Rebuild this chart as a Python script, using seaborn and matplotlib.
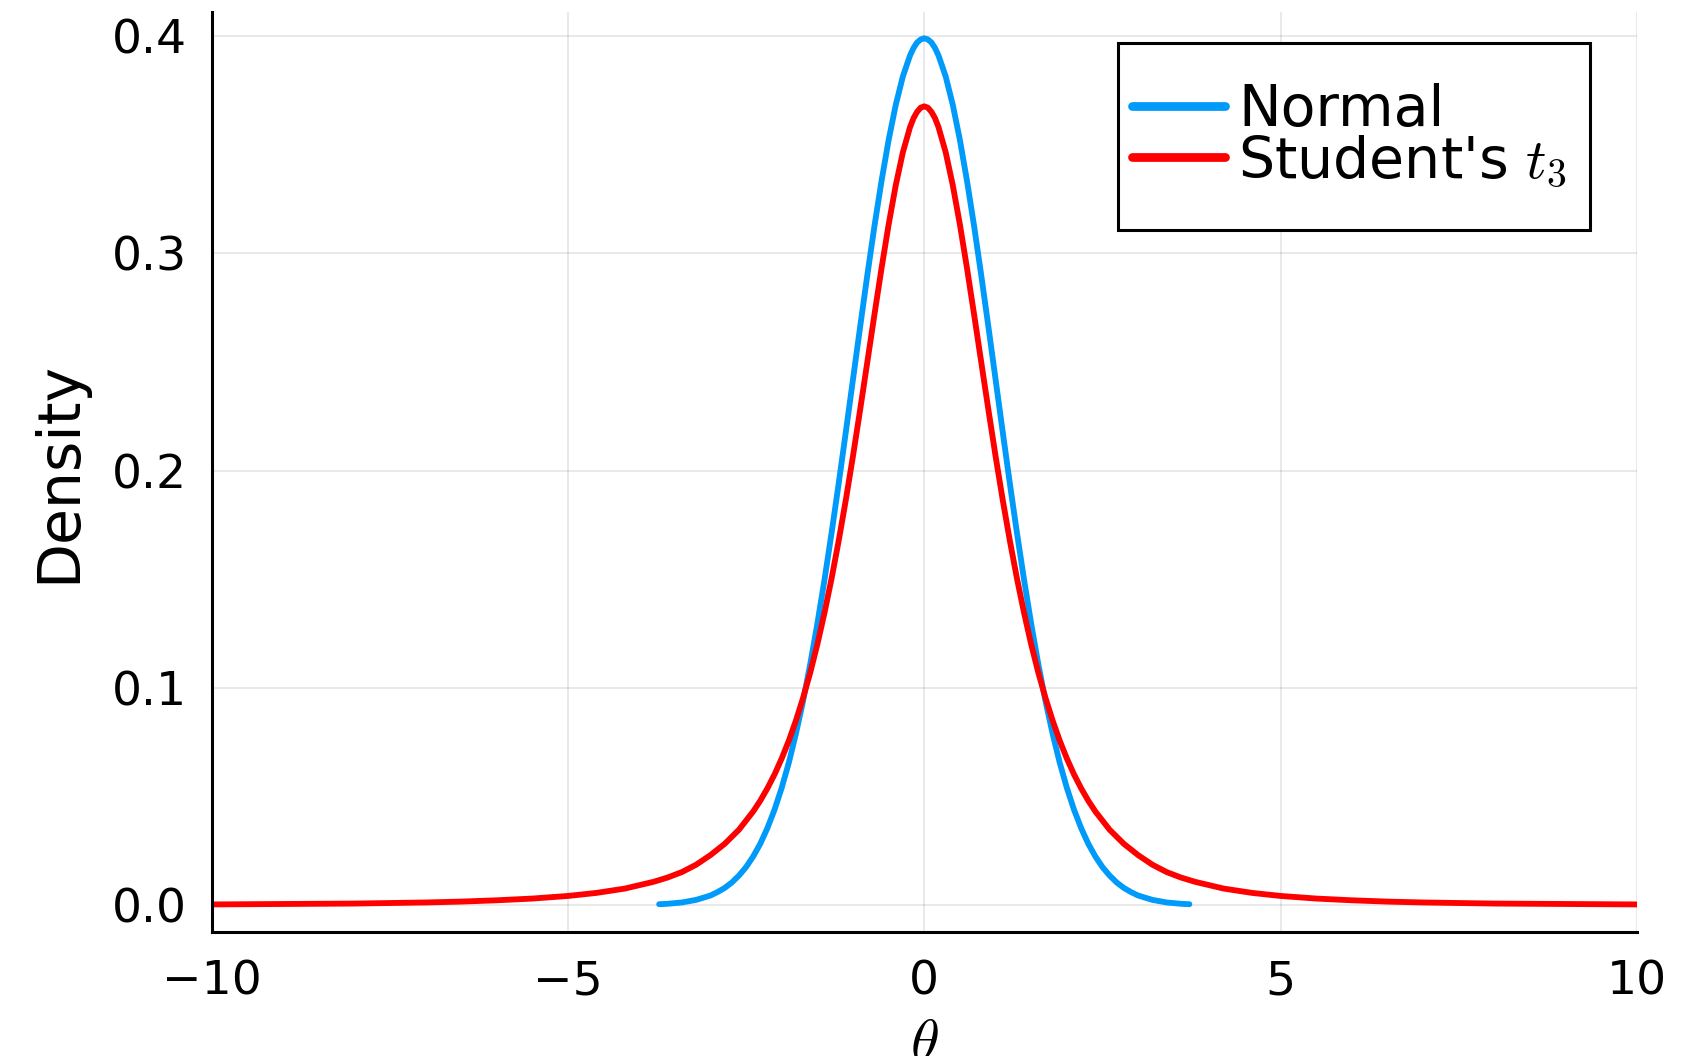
import seaborn as sns
import matplotlib.pyplot as plt
from matplotlib.patches import Rectangle
import pandas as pd

# values
normal_x = [-3.72, -3.6, -3.4, -3.2, -3.0, -2.9, -2.8, -2.7, -2.6, -2.5,
            -2.4, -2.3, -2.2, -2.1, -2.0, -1.9, -1.8, -1.7, -1.6, -1.5, -1.4, -1.3,
            -1.2, -1.1, -1.0, -0.9, -0.8, -0.7, -0.6, -0.5, -0.4, -0.3, -0.2, -0.15, -0.1, -0.05,
            0.0, 0.05, 0.1, 0.15, 0.2, 0.3, 0.4, 0.5, 0.6, 0.7, 0.8, 0.9, 1.0, 1.1, 1.2, 1.3,
            1.4, 1.5, 1.6, 1.7, 1.8, 1.9, 2.0, 2.1, 2.2, 2.3, 2.4,
            2.5, 2.6, 2.7, 2.8, 2.9, 3.0, 3.2, 3.4, 3.6, 3.72]
normal_y = [0.0004, 0.0006, 0.0012, 0.0024, 0.0044, 0.0060, 0.0079, 0.0104, 0.0136, 0.0175,
            0.0224, 0.0283, 0.0355, 0.0440, 0.0540, 0.0656, 0.0790, 0.0940, 0.1109, 0.1295, 0.1497, 0.1714,
            0.1942, 0.2179, 0.2420, 0.2661, 0.2897, 0.3123, 0.3332, 0.3521, 0.3683, 0.3814, 0.3910, 0.3945, 0.3970, 0.3984,
            0.3989, 0.3984, 0.3970, 0.3945, 0.3910, 0.3814, 0.3683, 0.3521, 0.3332, 0.3123, 0.2897, 0.2661, 0.2420, 0.2179, 0.1942, 0.1714,
            0.1497, 0.1295, 0.1109, 0.0940, 0.0790, 0.0656, 0.0540, 0.0440, 0.0355, 0.0283, 0.0224,
            0.0175, 0.0136, 0.0104, 0.0079, 0.0060, 0.0044, 0.0024, 0.0012, 0.0006, 0.0004]

t3_x = [-10.0, -9.0, -8.0, -7.0, -6.5, -6.0, -5.5, -5.0, -4.6, -4.2, -3.8, -3.6, -3.4, -3.2,
        -3.0, -2.8, -2.6, -2.4, -2.3, -2.2, -2.1, -2.0, -1.9, -1.8, -1.7, -1.6, -1.5, -1.4, -1.3,
        -1.2, -1.1, -1.0, -0.9, -0.8, -0.7, -0.6, -0.5, -0.4, -0.3, -0.2, -0.15, -0.1, -0.05,
        0.0, 0.05, 0.1, 0.15, 0.2, 0.3, 0.4, 0.5, 0.6, 0.7, 0.8, 0.9, 1.0, 1.1, 1.2, 1.3,
        1.4, 1.5, 1.6, 1.7, 1.8, 1.9, 2.0, 2.1, 2.2, 2.3, 2.4, 2.6, 2.8, 3.0,
        3.2, 3.4, 3.6, 3.8, 4.2, 4.6, 5.0, 5.5, 6.0, 6.5, 7.0, 8.0, 9.0, 10.0]
t3_y = [0.0003, 0.0005, 0.0007, 0.0012, 0.0016, 0.0022, 0.0030, 0.0042, 0.0056, 0.0076, 0.0107, 0.0127, 0.0152, 0.0186,
        0.0230, 0.0282, 0.0347, 0.0431, 0.0481, 0.0538, 0.0602, 0.0675, 0.0757, 0.0850, 0.0954, 0.1070, 0.1200, 0.1345, 0.1504,
        0.1678, 0.1866, 0.2067, 0.2279, 0.2497, 0.2716, 0.2930, 0.3132, 0.3313, 0.3465, 0.3580, 0.3622, 0.3651, 0.3670,
        0.3676, 0.3670, 0.3651, 0.3622, 0.3580, 0.3465, 0.3313, 0.3132, 0.2930, 0.2716, 0.2497, 0.2279, 0.2067, 0.1866, 0.1678, 0.1504,
        0.1345, 0.1200, 0.1070, 0.0954, 0.0850, 0.0757, 0.0675, 0.0602, 0.0538, 0.0481, 0.0431, 0.0347, 0.0282, 0.0230,
        0.0186, 0.0152, 0.0127, 0.0107, 0.0076, 0.0056, 0.0042, 0.0030, 0.0022, 0.0016, 0.0012, 0.0007, 0.0005, 0.0003]

x_ticks = [-10, -5, 0, 5, 10]
y_ticks = [0.0, 0.1, 0.2, 0.3, 0.4]
y_tick_labels = ['0.0', '0.1', '0.2', '0.3', '0.4']

df_normal = pd.DataFrame({'theta': normal_x, 'density': normal_y})
df_t3 = pd.DataFrame({'theta': t3_x, 'density': t3_y})

sns.set_theme(style='white')
plt.rcParams['font.family'] = ['DejaVu Sans']
plt.rcParams['mathtext.fontset'] = 'cm'
plt.rcParams['text.color'] = 'black'
plt.rcParams['axes.labelcolor'] = 'black'

fig = plt.figure(figsize=(17.02, 10.56), dpi=100)
ax = fig.add_axes([0.1243, 0.1174, 0.8375, 0.8712])

sns.lineplot(data=df_normal, x='theta', y='density', color='#009AFA',
             linewidth=4.2, label='Normal', sort=False, ax=ax)
sns.lineplot(data=df_t3, x='theta', y='density', color='#FF0000',
             linewidth=4.2, label="Student's $t_3$", sort=False, ax=ax)
for ln in ax.lines:
    ln.set_solid_capstyle('round')
    ln.set_solid_joinstyle('round')

ax.set_xlim(-10, 10)
ax.set_ylim(-0.0124, 0.411)
ax.set_xticks(x_ticks)
ax.set_yticks(y_ticks)
ax.set_yticklabels(y_tick_labels)
ax.grid(True, color='black', alpha=0.1, linewidth=1.2)
ax.tick_params(direction='in', length=10, width=1.6, labelsize=34,
               colors='black', pad=18)
ax.tick_params(axis='x', pad=20)

for side in ['top', 'right']:
    ax.spines[side].set_visible(False)
for side in ['left', 'bottom']:
    ax.spines[side].set_color('black')
    ax.spines[side].set_linewidth(2.2)

ax.set_xlabel(r'$\theta$', fontsize=42)
ax.set_ylabel('Density', fontsize=42)
ax.xaxis.set_label_coords(0.5, -0.09)
ax.yaxis.set_label_coords(-0.087, 0.5)

# legend box drawn separately so the padding can differ per side
ax.add_patch(Rectangle((0.636, 0.763), 0.331, 0.203, transform=ax.transAxes,
                       facecolor='white', edgecolor='black', linewidth=2.2,
                       zorder=5))
leg = ax.legend(loc='upper left', bbox_to_anchor=(0.6455, 0.923), fontsize=41,
                frameon=False, handlelength=1.64, handletextpad=0.23,
                labelspacing=-0.08, borderpad=0, borderaxespad=0)
leg.set_zorder(6)
for h in leg.legend_handles:
    h.set_linewidth(6.3)
    h.set_solid_capstyle('round')

fig.savefig('out.png', dpi=100, facecolor='white')
